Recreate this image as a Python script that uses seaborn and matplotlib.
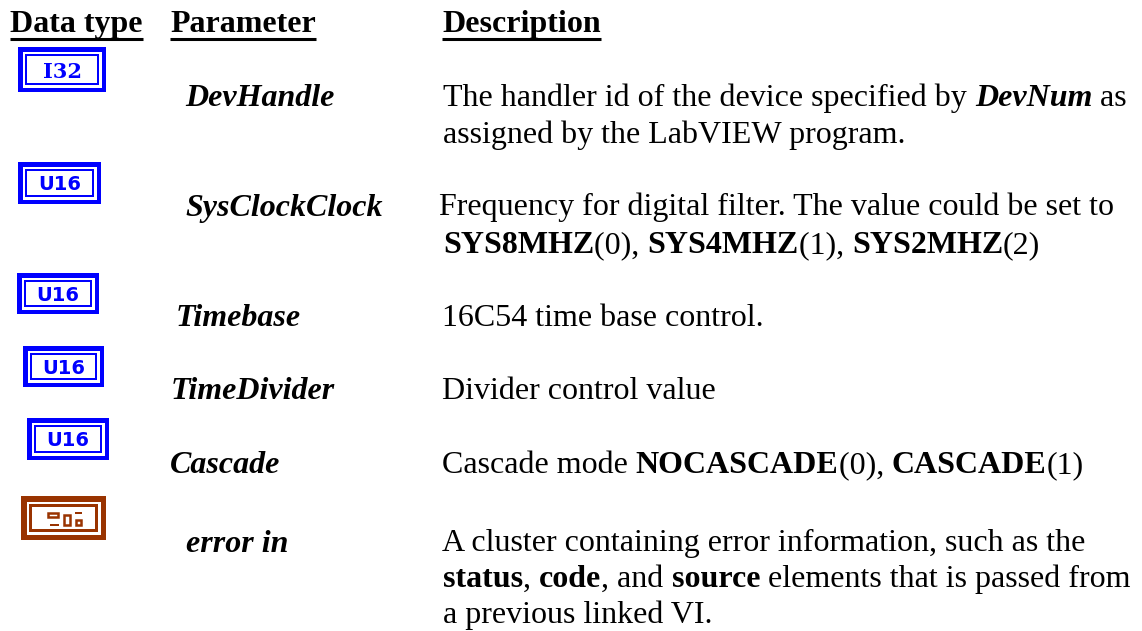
import matplotlib
matplotlib.use("Agg")
import matplotlib.pyplot as plt
from matplotlib.patches import Rectangle
import seaborn as sns

# ---------------------------
# Table contents
# ---------------------------
headers = ["Data type", "Parameter", "Description"]
data_types = ["I32", "U16", "U16", "U16", "U16", "cluster"]
parameters = ["DevHandle", "SysClockClock", "Timebase", "TimeDivider", "Cascade", "error in"]

# each description line is a list of (text, style) runs
descriptions = [
    [[("The handler id of the device specified by ", "n"), ("DevNum", "bi"), (" as", "n")],
     [("assigned by the LabVIEW program.", "n")]],
    [[("Frequency for digital filter. The value could be set to", "n")],
     [("SYS8MHZ", "b"), ("(0), ", "n"), ("SYS4MHZ", "b"), ("(1), ", "n"), ("SYS2MHZ", "b"), ("(2)", "n")]],
    [[("16C54 time base control.", "n")]],
    [[("Divider control value", "n")]],
    [[("Cascade mode ", "n"), ("NOCASCADE", "b"), ("(0), ", "n"), ("CASCADE", "b"), ("(1)", "n")]],
    [[("A cluster containing error information, such as the", "n")],
     [("status", "b"), (", ", "n"), ("code", "b"), (", and ", "n"), ("source", "b"), (" elements that is passed from", "n")],
     [("a previous linked VI.", "n")]],
]

# layout in image pixels
header_x = [10, 170, 442]
header_ends = [143, 316, 601]
param_x = [185, 185, 176, 171, 170, 186]
param_y = [106, 216, 326, 399, 473, 552]
desc_x = [[443, 443], [439, 443], [442], [442], [442], [442, 443, 443]]
desc_y = [[106, 143], [215, 253], [326], [399], [473], [551, 587, 623]]
icon_box = [(18, 47, 88, 45), (18, 162, 83, 42), (17, 273, 82, 41),
            (23, 346, 81, 41), (27, 418, 82, 42), (21, 496, 85, 44)]
# small shapes inside the cluster icon, offsets from its corner
cluster_bars = [(29, 27.5, 8.5, 2.5), (54, 15.7, 7, 2.3)]
cluster_boxes = [(26, 15.7, 12, 5.8), (42, 17.5, 8, 12.5), (54, 22.5, 7, 7.5)]

BLUE = "#0000ff"
BROWN = "#993300"
SIZE = 23

sns.set_theme(style="white", rc={"font.family": "Liberation Serif"})

fig = plt.figure(figsize=(11.42, 6.31), dpi=100)
ax = fig.add_axes([0, 0, 1, 1])
ax.set_xlim(0, 1142)
ax.set_ylim(631, 0)
ax.axis("off")

STYLES = {"n": ("normal", "normal"), "b": ("bold", "normal"),
          "i": ("normal", "italic"), "bi": ("bold", "italic")}


def draw_runs(x, y, runs):
    """Write the runs one after the other, measuring each one."""
    rend = fig.canvas.get_renderer()
    for txt, style in runs:
        w, s = STYLES[style]
        ax.text(x, y, txt, fontsize=SIZE, weight=w, style=s, va="baseline",
                ha="left", color="black")
        # keep trailing spaces in the advance width
        probe = ax.text(0, 0, txt.replace(" ", "\u00a0"), fontsize=SIZE, weight=w, style=s)
        x += probe.get_window_extent(rend).width
        probe.remove()


def draw_icon(box, label):
    x, y, w, h = box
    color = BROWN if label == "cluster" else BLUE
    band = 5.5 if label == "cluster" else 4.5
    gap = 2.7
    line = 2.8 if label == "cluster" else 2
    for d, fc in [(0, color), (band, "white"), (band + gap, color), (band + gap + line, "white")]:
        ax.add_patch(Rectangle((x + d, y + d), w - 2 * d, h - 2 * d, fc=fc, ec="none"))
    cx, cy = x + w / 2, y + h / 2
    if label == "cluster":
        for bx, by, bw, bh in cluster_bars:
            ax.add_patch(Rectangle((x + bx, y + by), bw, bh, fc=color, ec="none"))
        for bx, by, bw, bh in cluster_boxes:
            ax.add_patch(Rectangle((x + bx + 1, y + by + 1), bw - 2, bh - 2, fc="white", ec=color, lw=1.8))
    elif label == "I32":
        ax.text(cx + 1, cy, label, color=color, fontsize=15, ha="center", va="center_baseline",
                family="DejaVu Serif", weight="bold")
    else:
        ax.text(cx, cy, label, color=color, fontsize=14, ha="center", va="center_baseline",
                family="DejaVu Sans", weight="bold")


for name, x0, x1 in zip(headers, header_x, header_ends):
    ax.text(x0, 32, name, fontsize=SIZE, weight="bold", va="baseline", color="black")
    ax.plot([x0, x1], [38.8, 38.8], color="black", lw=2.2, solid_capstyle="butt")

for i, label in enumerate(data_types):
    draw_icon(icon_box[i], label)
    draw_runs(param_x[i], param_y[i], [(parameters[i], "bi")])
    for line_runs, x, y in zip(descriptions[i], desc_x[i], desc_y[i]):
        draw_runs(x, y, line_runs)

fig.savefig("out.png", dpi=100, facecolor="white")
